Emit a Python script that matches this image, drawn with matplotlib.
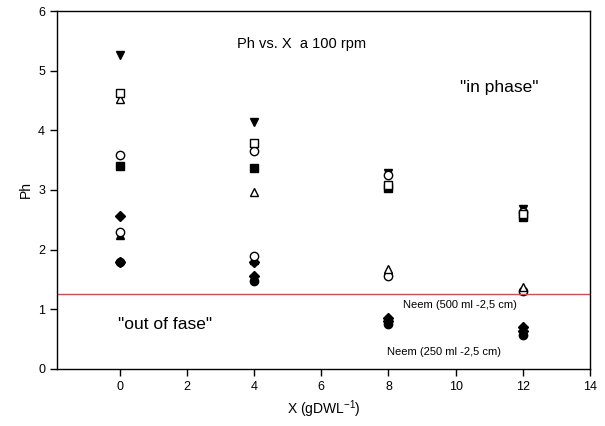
import matplotlib
matplotlib.use("Agg")
import matplotlib.pyplot as plt

plt.rcParams['font.family'] = ['Liberation Sans', 'DejaVu Sans']
plt.rcParams['mathtext.fontset'] = 'custom'
plt.rcParams['mathtext.rm'] = 'Liberation Sans'

x_vals = [0, 4, 8, 12]

s_tri_down = [5.27, 4.14, 3.28, 2.68]
s_sq_open = [4.62, 3.78, 3.08, 2.60]
s_tri_open = [4.52, 2.96, 1.68, 1.38]
s_circ_open_hi = [3.58, 3.66, 3.25, 2.63]
s_sq_filled = [3.40, 3.37, 3.04, 2.55]
s_diam_hi = [2.57, 1.56, 0.86, 0.70]
s_circ_open_lo = [2.30, 1.90, 1.56, 1.30]
s_tri_up_filled = [2.24, 1.82, 1.66, 1.33]
s_circ_filled = [1.80, 1.48, 0.76, 0.57]
s_diam_lo = [1.79, 1.80, 0.80, 0.64]

threshold = 1.25

series = [
    (s_tri_up_filled, '^', 'black'),
    (s_circ_filled, 'o', 'black'),
    (s_diam_lo, 'D', 'black'),
    (s_diam_hi, 'D', 'black'),
    (s_sq_filled, 's', 'black'),
    (s_tri_down, 'v', 'black'),
    (s_circ_open_lo, 'o', 'white'),
    (s_circ_open_hi, 'o', 'white'),
    (s_tri_open, '^', 'white'),
    (s_sq_open, 's', 'white'),
]

fig = plt.figure(figsize=(6.05, 4.26), dpi=100)
ax = fig.add_axes([0.094, 0.134, 0.881, 0.840])

for vals, m, fc in series:
    ms = 5.0 if m == 'D' else 6.0
    ax.plot(x_vals, vals, linestyle='none', marker=m, markersize=ms,
            markerfacecolor=fc, markeredgecolor='black', markeredgewidth=1.0)

ax.axhline(threshold, color='#c9505a', linewidth=1.0)

ax.set_xlim(-1.88, 14)
ax.set_ylim(0, 6)
ax.set_xticks([0, 2, 4, 6, 8, 10, 12, 14])
ax.set_yticks([0, 1, 2, 3, 4, 5, 6])
ax.tick_params(direction='out', length=5, width=1, labelsize=9)
for s in ax.spines.values():
    s.set_linewidth(1.0)

ax.set_xlabel('X (gDWL$^{-1}$)', fontsize=10)
ax.set_ylabel('Ph', fontsize=10)

ax.text(5.4, 5.44, 'Ph vs. X  a 100 rpm', fontsize=10.5, ha='center', va='center')
ax.text(11.3, 4.72, '"in phase"', fontsize=12.5, ha='center', va='center')
ax.text(1.34, 0.74, '"out of fase"', fontsize=12.5, ha='center', va='center')
ax.text(8.42, 1.07, 'Neem (500 ml -2,5 cm)', fontsize=8, ha='left', va='center')
ax.text(7.97, 0.28, 'Neem (250 ml -2,5 cm)', fontsize=8, ha='left', va='center')

fig.savefig('out.png', dpi=100)
